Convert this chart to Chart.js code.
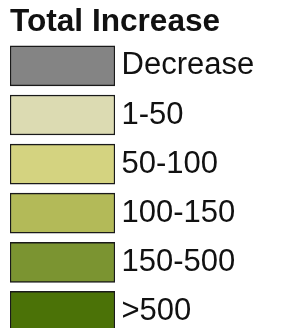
<!DOCTYPE html>
<html>
<head>
<meta charset="utf-8">
<style>
html,body{margin:0;padding:0;overflow:hidden;background:#fff;}
#wrap{width:307px;height:336px;}
canvas{display:block;}
</style>
<script src="https://cdn.jsdelivr.net/npm/chart.js@4/dist/chart.umd.min.js"></script>
</head>
<body>
<div id="wrap"><canvas id="c" width="307" height="336"></canvas></div>
<script>
const title = "Total Increase";
const categories = ["Decrease", "1-50", "50-100", "100-150", "150-500", ">500"];
const values = [1, 1, 1, 1, 1, 1];
const swatchColors = ["#848484", "#dcdbb2", "#d4d380", "#b3ba58", "#7b9431", "#4b7207"];

new Chart(document.getElementById("c"), {
  type: "bar",
  data: {
    labels: categories,
    datasets: [{
      data: values,
      backgroundColor: swatchColors,
      borderColor: "#1a1a1a",
      borderWidth: 1.5,
      borderSkipped: false,
      barThickness: 40
    }]
  },
  options: {
    indexAxis: "y",
    responsive: false,
    animation: false,
    events: [],
    layout: { autoPadding: false, padding: { left: 10, right: 0, top: 0, bottom: 0 } },
    plugins: {
      legend: { display: false },
      tooltip: { enabled: false },
      title: {
        display: true,
        text: title,
        align: "start",
        color: "#111",
        font: { family: "'Liberation Sans', Arial, sans-serif", size: 31.6, weight: "bold", lineHeight: 1.18 },
        padding: { top: 4, bottom: 0 }
      }
    },
    scales: {
      x: { display: false, min: 0, max: 1 },
      y: {
        position: "right",
        offset: true,
        grid: { display: false, drawTicks: false },
        border: { display: false },
        afterFit: (s) => { s.width = 192; s.paddingTop = 0; s.paddingBottom = 0; },
        ticks: {
          autoSkip: false,
          padding: 6.5,
          color: "#111",
          font: { family: "'Liberation Sans', Arial, sans-serif", size: 31 }
        }
      }
    }
  }
});
</script>
</body>
</html>
